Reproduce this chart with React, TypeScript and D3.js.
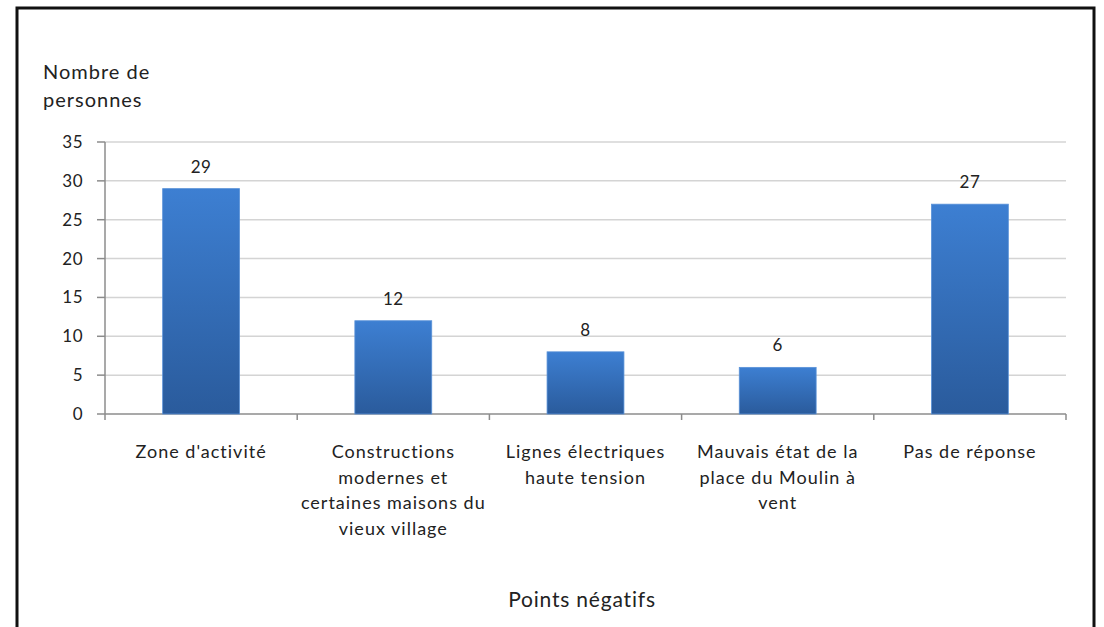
import React from "react";
import * as d3 from "d3";

const categories: string[][] = [
  ["Zone d'activité"],
  ["Constructions", "modernes et", "certaines maisons du", "vieux village"],
  ["Lignes électriques", "haute tension"],
  ["Mauvais état de la", "place du Moulin à", "vent"],
  ["Pas de réponse"],
];
const values: number[] = [29, 12, 8, 6, 27];
const yTicks: number[] = [0, 5, 10, 15, 20, 25, 30, 35];
const yTitle: string[] = ["Nombre de", "personnes"];
const xTitle = "Points négatifs";

const W = 1104;
const H = 627;
const left = 105;
const right = 1066;
const top = 142;
const bottom = 414;
const FONT = "Lato, 'Open Sans', sans-serif";

export default function App() {
  const keys = categories.map((_, i) => String(i));
  const x = d3.scaleBand<string>().domain(keys).range([left, right]).paddingInner(0).paddingOuter(0);
  const y = d3.scaleLinear().domain([0, 35]).range([bottom, top]);
  const bw = x.bandwidth() * 0.4;

  return (
    <svg width={W} height={H} style={{ position: "absolute", left: 0, top: 0, background: "#fff" }}>
      <defs>
        <linearGradient id="barGrad" x1="0" y1="0" x2="0" y2="1">
          <stop offset="0%" stopColor="#3d7fd2" />
          <stop offset="100%" stopColor="#2a5b9c" />
        </linearGradient>
      </defs>
      <rect x={17} y={8} width={1077} height={640} fill="#fff" stroke="#111" strokeWidth={3} />
      {yTicks.map((t) => (
        <line key={"g" + t} x1={left} x2={right} y1={y(t)} y2={y(t)} stroke={t === 0 ? "#8c8c8c" : "#d4d4d4"} strokeWidth={1.5} />
      ))}
      <line x1={left} x2={left} y1={top} y2={bottom} stroke="#8c8c8c" strokeWidth={1.5} />
      {yTicks.map((t) => (
        <g key={"t" + t}>
          <line x1={left - 8} x2={left} y1={y(t)} y2={y(t)} stroke="#8c8c8c" strokeWidth={1.5} />
          <text x={83} y={y(t)} dy="0.35em" textAnchor="end" fontFamily={FONT} fontSize={17} letterSpacing={0.5} fill="#222">
            {t}
          </text>
        </g>
      ))}
      {keys.map((k) => (
        <line key={"xt" + k} x1={x(k)!} x2={x(k)!} y1={bottom} y2={bottom + 6} stroke="#8c8c8c" strokeWidth={1.5} />
      ))}
      <line x1={right} x2={right} y1={bottom} y2={bottom + 6} stroke="#8c8c8c" strokeWidth={1.5} />
      {values.map((v, i) => {
        const cx = x(keys[i])! + x.bandwidth() / 2;
        return (
          <g key={"b" + i}>
            <rect x={cx - bw / 2} y={y(v)} width={bw} height={bottom - y(v)} fill="url(#barGrad)" stroke="#5a92d8" strokeWidth={0.8} />
            <text x={cx} y={y(v) - 16} textAnchor="middle" fontFamily={FONT} fontSize={17} letterSpacing={0.5} fill="#222">
              {v}
            </text>
          </g>
        );
      })}
      {categories.map((lines, i) => {
        const cx = x(keys[i])! + x.bandwidth() / 2;
        return (
          <text key={"c" + i} textAnchor="middle" fontFamily={FONT} fontSize={18} letterSpacing={1} fill="#222">
            {lines.map((l, j) => (
              <tspan key={j} x={cx} y={458 + j * 25.5}>
                {l}
              </tspan>
            ))}
          </text>
        );
      })}
      <text fontFamily={FONT} fontSize={20} letterSpacing={1} fill="#222">
        {yTitle.map((l, j) => (
          <tspan key={j} x={43} y={79 + j * 28}>
            {l}
          </tspan>
        ))}
      </text>
      <text x={582} y={607} textAnchor="middle" fontFamily={FONT} fontSize={21} letterSpacing={0.8} fill="#222">
        {xTitle}
      </text>
    </svg>
  );
}
